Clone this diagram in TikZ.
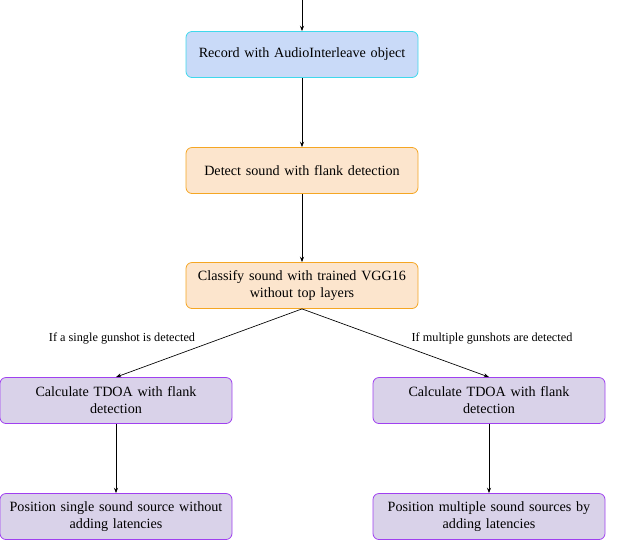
\documentclass[tikz,border=0pt]{standalone}
\usepackage{fontspec}
\setmainfont{Liberation Serif}
\usetikzlibrary{arrows.meta}
\definecolor{bfill}{HTML}{C9DAF8}
\definecolor{bdraw}{HTML}{40D8EC}
\definecolor{ofill}{HTML}{FCE5CD}
\definecolor{odraw}{HTML}{F5A623}
\definecolor{pfill}{HTML}{D9D2E9}
\definecolor{pdraw}{HTML}{A040F0}
\tikzset{
  box/.style={rounded corners=4.5pt, line width=0.6pt, minimum width=172.5pt, minimum height=34.5pt, align=center, inner sep=2pt, font=\fontsize{10.6pt}{12.8pt}\selectfont, text width=170pt},
  bbox/.style={box, fill=bfill, draw=bdraw},
  obox/.style={box, fill=ofill, draw=odraw},
  pbox/.style={box, fill=pfill, draw=pdraw},
  conn/.style={-{Stealth[length=4pt,width=3pt]}, line width=0.5pt, black},
  lbl/.style={font=\fontsize{9.2pt}{11pt}\selectfont, inner sep=0pt}
}
\begin{document}
\begin{tikzpicture}[x=0.75pt,y=-0.75pt]
\useasboundingbox (0,0) rectangle (624,540);
\coordinate (top) at (302,0);
\node[bbox] (rec) at (302,54.5) {Record with AudioInterleave object};
\node[obox] (det) at (302,170.5) {Detect sound with flank detection};
\node[obox] (cls) at (302,285.5) {Classify sound with trained VGG16\\without top layers};
\node[pbox] (tl) at (116,400.5) {Calculate TDOA with flank\\detection};
\node[pbox] (tr) at (489,400.5) {Calculate TDOA with flank\\detection};
\node[pbox] (pl) at (116,516.5) {Position single sound source without\\adding latencies};
\node[pbox] (pr) at (489,516.5) {Position multiple sound sources by\\adding latencies};
\draw[conn] (top) -- (rec.north);
\draw[conn] (rec) -- (det);
\draw[conn] (det) -- (cls);
\draw[conn] (cls.south) -- (tl.north);
\draw[conn] (cls.south) -- (tr.north);
\draw[conn] (tl) -- (pl);
\draw[conn] (tr) -- (pr);
\node[lbl] (l1) at (122,338) {If a single gunshot is detected};
\node[lbl] (l2) at (492,338) {If multiple gunshots are detected};
\end{tikzpicture}
\end{document}
